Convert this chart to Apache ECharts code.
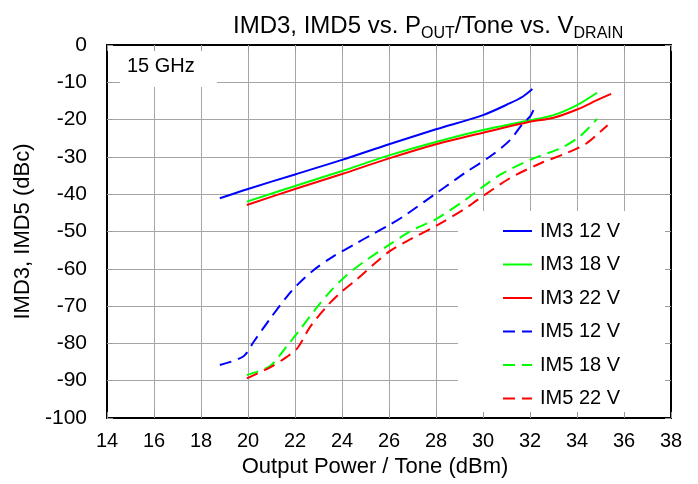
<!DOCTYPE html>
<html>
<head>
<meta charset="utf-8">
<script src="https://cdn.jsdelivr.net/npm/echarts@6/dist/echarts.min.js"></script>
<style>html,body{margin:0;padding:0;background:#fff}#c{width:698px;height:484px}</style>
</head>
<body>
<div id="c"></div>
<script>
// ---- data (Output Power / Tone in dBm, IMD in dBc) ----
const seriesNames = ['IM3 12 V', 'IM3 18 V', 'IM3 22 V', 'IM5 12 V', 'IM5 18 V', 'IM5 22 V'];
const xTicks = [14, 16, 18, 20, 22, 24, 26, 28, 30, 32, 34, 36, 38];
const yTicks = [0, -10, -20, -30, -40, -50, -60, -70, -80, -90, -100];

const im3_12V = [[18.8,-41.1],[20,-38.6],[22,-34.7],[24,-30.8],[26,-26.6],[28,-22.6],[30,-18.8],[31.15,-15.6],[31.7,-13.8],[32.1,-11.8]];
const im3_18V = [[19.95,-42.0],[22,-37.8],[24,-33.8],[26,-29.6],[28,-26.0],[30,-22.8],[31.9,-20.3],[33,-18.8],[34,-16.1],[34.85,-12.8]];
const im3_22V = [[19.95,-42.9],[22,-38.6],[24,-34.6],[26,-30.4],[28,-26.6],[30,-23.5],[31.9,-20.7],[33,-19.5],[34,-17.3],[34.85,-14.8],[35.45,-13.1]];
const im5_12V = [[18.8,-85.8],[19.8,-83.5],[20.25,-79.5],[20.95,-73.3],[21.65,-67.5],[22.1,-64.3],[22.8,-60.3],[23.6,-56.8],[24.6,-53.2],[25.3,-50.7],[26,-48.3],[26.6,-46.0],[28,-39.8],[28.8,-36.2],[29.3,-34.0],[30.3,-29.9],[31.15,-25.5],[31.7,-21.0],[32.0,-19.2],[32.15,-17.4]];
const im5_18V = [[19.95,-88.5],[20.65,-87.0],[21.0,-85.8],[21.7,-80.4],[22.2,-76.4],[22.85,-71.0],[23.55,-65.7],[24.2,-61.7],[25.05,-57.6],[26,-53.6],[27.0,-49.6],[28,-46.7],[29.25,-41.5],[30.7,-34.9],[32.15,-30.4],[33.3,-27.7],[34.1,-24.6],[34.55,-21.9],[34.85,-19.8]];
const im5_22V = [[19.95,-89.4],[21.0,-86.2],[21.65,-83.6],[22.1,-81.3],[22.65,-75.5],[23.35,-70.1],[23.9,-66.6],[24.6,-63.0],[26,-55.4],[27.0,-51.8],[28,-48.5],[29.25,-43.8],[29.75,-41.6],[31.15,-35.7],[32.45,-31.7],[33.55,-29.0],[34.4,-26.4],[35.0,-23.2],[35.3,-21.5]];

const seriesData = [im3_12V, im3_18V, im3_22V, im5_12V, im5_18V, im5_22V];
const colors = ['#0000ff', '#00ff00', '#ff0000', '#0000ff', '#00ff00', '#ff0000'];
const dashed = [false, false, false, true, true, true];

const FONT = 'Liberation Sans, Arial, sans-serif';
const chart = echarts.init(document.getElementById('c'), null, {renderer: 'canvas'});

const GRID = {left: 107, right: 27, top: 45, bottom: 66};
const xMin = xTicks[0], xMax = xTicks[xTicks.length - 1];
const yMin = yTicks[yTicks.length - 1], yMax = yTicks[0];

function xAx(extra) {
  return Object.assign({
    type: 'value', min: xMin, max: xMax, interval: 2,
    axisLine: {show: true, onZero: false, lineStyle: {color: '#000', width: 2}},
    axisTick: {show: true, inside: true, length: 6, lineStyle: {color: '#999'}},
    axisLabel: {show: false},
    splitLine: {show: false},
    z: 5
  }, extra);
}
function yAx(extra) {
  return Object.assign({
    type: 'value', min: yMin, max: yMax, interval: 10,
    axisLine: {show: true, onZero: false, lineStyle: {color: '#000', width: 2}},
    axisTick: {show: true, inside: true, length: 6, lineStyle: {color: '#999'}},
    axisLabel: {show: false},
    splitLine: {show: false},
    z: 5
  }, extra);
}

const option = {
  animation: false,
  backgroundColor: '#fff',
  color: colors,
  title: {
    left: 228, top: 5,
    text: '{a|IMD3, IMD5 vs. P}{b|OUT}{a|/Tone vs. V}{b|DRAIN}',
    textStyle: {
      fontWeight: 'normal',
      rich: {
        a: {fontSize: 24, fontFamily: FONT, fontWeight: 'normal', color: '#000', lineHeight: 28, verticalAlign: 'bottom'},
        b: {fontSize: 16, fontFamily: FONT, fontWeight: 'normal', color: '#000', lineHeight: 28, verticalAlign: 'bottom', padding: [0, 0, -4, 0]}
      }
    }
  },
  grid: GRID,
  graphic: [
    {type: 'rect', z: 1, shape: {x: 120, y: 46, width: 97, height: 41}, style: {fill: '#fff'}},
    {type: 'text', z: 6, left: 127, top: 56, style: {text: '15 GHz', fontSize: 20, fontFamily: FONT, fill: '#000'}},
    {type: 'rect', z: 1, shape: {x: 458, y: 211, width: 212, height: 206}, style: {fill: '#fff'}}
  ],
  legend: {
    orient: 'vertical', left: 497, top: 216,
    itemWidth: 29, itemHeight: 14, itemGap: 13.5,
    data: seriesNames,
    itemStyle: {opacity: 0},
    textStyle: {fontSize: 20, fontFamily: FONT, color: '#000', padding: [0, 0, 0, 3]},
    z: 6
  },
  xAxis: [
    xAx({position: 'bottom',
      axisLabel: {show: true, fontSize: 20, fontFamily: FONT, color: '#000', margin: 13},
      name: 'Output Power / Tone (dBm)', nameLocation: 'middle', nameGap: 37,
      nameTextStyle: {fontSize: 22, fontFamily: FONT, color: '#000', padding: [0, 28, 0, 0]}}),
    xAx({position: 'top'}),
    {type: 'value', min: xMin, max: xMax, interval: 2, position: 'bottom', z: 0,
      axisLine: {show: false}, axisTick: {show: false}, axisLabel: {show: false},
      splitLine: {show: true, lineStyle: {color: '#a6a6a6', width: 1}}}
  ],
  yAxis: [
    yAx({position: 'left',
      axisLabel: {show: true, fontSize: 21, fontFamily: FONT, color: '#000', margin: 20},
      name: 'IMD3, IMD5 (dBc)', nameLocation: 'middle', nameGap: 72, nameRotate: 90,
      nameTextStyle: {fontSize: 22, fontFamily: FONT, color: '#000'}}),
    yAx({position: 'right'}),
    {type: 'value', min: yMin, max: yMax, interval: 10, position: 'left', z: 0,
      axisLine: {show: false}, axisTick: {show: false}, axisLabel: {show: false},
      splitLine: {show: true, lineStyle: {color: '#a6a6a6', width: 1}}}
  ],
  series: seriesNames.map((n, i) => ({
    name: n, type: 'line', xAxisIndex: 0, yAxisIndex: 0,
    data: seriesData[i], smooth: 0.3, symbol: 'none', showSymbol: false,
    z: 3,
    lineStyle: {color: colors[i], width: 2, type: dashed[i] ? [12, 7] : 'solid'},
    itemStyle: {color: colors[i]}
  }))
};
chart.setOption(option);
</script>
</body>
</html>
